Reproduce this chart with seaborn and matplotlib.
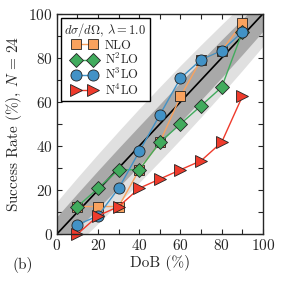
import matplotlib
matplotlib.use("Agg")
import matplotlib.pyplot as plt
import seaborn as sns

# DoB levels and success rates (%), N = 24
dob = [10, 20, 30, 40, 50, 60, 70, 80, 90]
nlo = [12.5, 12.5, 12.5, 29.2, 41.7, 62.5, 79.2, 83.3, 95.8]
n2lo = [12.5, 20.8, 29.2, 29.2, 41.7, 50.0, 58.3, 66.7, 91.7]
n3lo = [4.2, 8.3, 20.8, 37.5, 54.2, 70.8, 79.2, 83.3, 91.7]
n4lo = [0.0, 8.3, 12.5, 20.8, 25.0, 29.2, 33.3, 41.7, 62.5]

# credible bands (grey lenses), edges
band_x = [0, 10, 20, 30, 40, 50, 60, 70, 80, 90, 100]
band68_lo = [-7.0, 2.4, 11.7, 21.3, 31.0, 41.0, 50.9, 60.9, 71.1, 81.5, 92.1]
band68_hi = [7.9, 18.5, 28.9, 39.1, 49.1, 59.0, 69.0, 78.7, 88.3, 97.6, 107.0]
band95_lo = [-12.7, -4.2, 4.8, 14.0, 23.4, 33.1, 43.0, 53.2, 63.6, 74.3, 85.3]
band95_hi = [14.7, 25.7, 36.4, 46.8, 57.0, 66.9, 76.6, 86.0, 95.2, 104.2, 112.7]

sns.set_style("ticks")
plt.rcParams["font.family"] = "serif"
plt.rcParams["font.serif"] = ["cmr10", "DejaVu Serif"]
plt.rcParams["mathtext.fontset"] = "cm"
plt.rcParams["axes.formatter.use_mathtext"] = True
plt.rcParams["font.size"] = 11

fig = plt.figure(figsize=(2.83, 2.83), dpi=100)
ax = fig.add_axes([0.201, 0.173, 0.728, 0.778])

ax.fill_between(band_x, band95_lo, band95_hi, color="#e0e0e0", lw=0, zorder=0)
ax.fill_between(band_x, band68_lo, band68_hi, color="#a9a9a9", lw=0, zorder=1)
ax.plot([0, 100], [0, 100], color="black", lw=1.2, zorder=2)

series = [
    ("NLO", nlo, "s", "#f9a25e", 7.5),
    (r"N$^2$LO", n2lo, "D", "#41ab5d", 7.5),
    (r"N$^3$LO", n3lo, "o", "#4292c6", 8),
    (r"N$^4$LO", n4lo, ">", "#ef3b2c", 8),
]
for i, (name, vals, mk, col, ms) in enumerate(series):
    sns.lineplot(x=dob, y=vals, ax=ax, color=col, marker=mk, markersize=ms,
                 markeredgecolor="#222222", markeredgewidth=0.6, lw=1.0,
                 label=name, zorder=3 + i, clip_on=False)

ax.set_xlim(0, 100)
ax.set_ylim(0, 100)
ax.set_xticks([0, 20, 40, 60, 80, 100])
ax.set_yticks([0, 20, 40, 60, 80, 100])
ax.set_xticks(range(10, 100, 20), minor=True)
ax.set_yticks(range(10, 100, 20), minor=True)
ax.tick_params(which="both", direction="in", top=True, right=True, labelsize=11,
               length=3.5, width=0.8)
ax.tick_params(which="major", pad=3)
for s in ax.spines.values():
    s.set_linewidth(1.0)
    s.set_zorder(10)

ax.set_xlabel("DoB (%)", fontsize=11, labelpad=1)
ax.set_ylabel(r"Success Rate (%), $N$ = 24", fontsize=11, labelpad=3)

leg = ax.legend(loc="upper left", numpoints=2, handlelength=2.0,
                title=r"$d\sigma/d\Omega$, $\lambda = 1.0$", fontsize=9,
                title_fontsize=9, fancybox=False, framealpha=1,
                edgecolor="black", borderpad=0.3, labelspacing=0.02,
                handletextpad=0.6, borderaxespad=0.3)
leg.get_frame().set_linewidth(1.0)
leg.set_zorder(20)

fig.text(0.045, 0.05, "(b)", fontsize=11)

fig.savefig("out.png", dpi=100)
